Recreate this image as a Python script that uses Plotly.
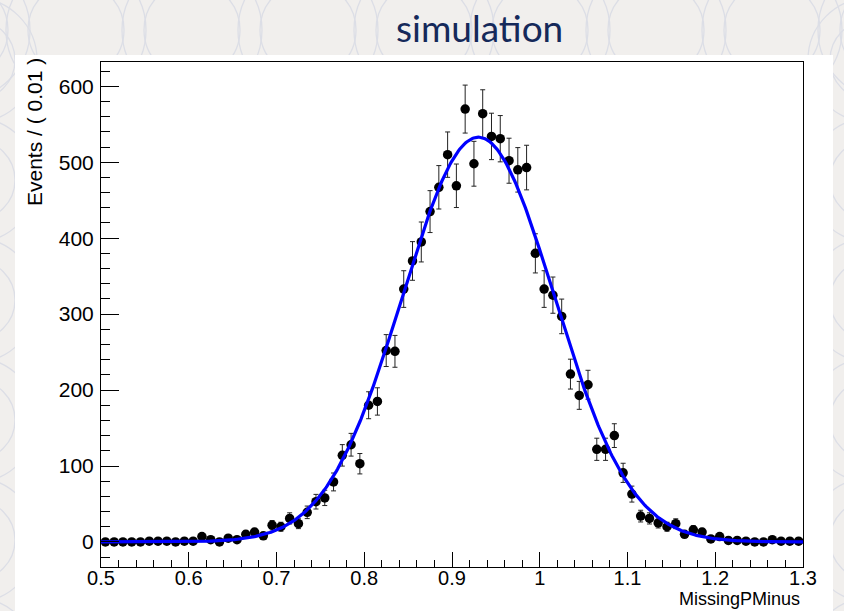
import numpy as np
import plotly.graph_objects as go

# Histogram of MissingPMinus, 80 bins of width 0.01 between 0.5 and 1.3
bin_lo = 0.5
bin_width = 0.01
counts = [
    0, 0, 0, 0, 0, 1, 1, 1, 0, 1,
    1, 7, 3, 0, 5, 3, 10, 13, 8, 22,
    20, 31, 24, 39, 53, 58, 79, 114, 128, 103,
    180, 185, 252, 251, 333, 370, 395, 435, 467, 510,
    469, 570, 498, 564, 534, 531, 502, 490, 493, 380,
    333, 325, 297, 221, 193, 207, 122, 122, 140, 91,
    63, 34, 31, 25, 20, 24, 10, 16, 13, 4,
    7, 2, 2, 1, 0, 0, 3, 1, 1, 1,
]
# per-event weight of the simulated sample (errors are sqrt(sum w^2))
event_weight = 1.75

# Gaussian fit result
fit_amp = 533.0
fit_mean = 0.930
fit_sigma = 0.0866

x_range = [0.5, 1.3]
y_range = [-33, 632]

counts = np.array(counts, dtype=float)
centers = bin_lo + bin_width * (np.arange(len(counts)) + 0.5)
errors = np.sqrt(counts * event_weight)

xf = np.linspace(x_range[0], x_range[1], 600)
yf = fit_amp * np.exp(-0.5 * ((xf - fit_mean) / fit_sigma) ** 2)

W, H = 844, 611
ml, mr, mt, mb = 101, 41, 62, 44
pw, ph = W - ml - mr, H - mt - mb


def px_x(p):
    return (p - ml) / pw


def px_y(p):
    return 1 - (p - mt) / ph


fig = go.Figure()

fig.add_trace(go.Scatter(
    x=centers, y=counts, mode="markers",
    marker=dict(color="black", size=9.5),
    error_y=dict(type="data", array=errors, color="#222222", thickness=1, width=2.5),
    showlegend=False, cliponaxis=True,
))
fig.add_trace(go.Scatter(
    x=xf, y=yf, mode="lines",
    line=dict(color="#0000ff", width=3.2),
    showlegend=False,
))

shapes = []
# slide background ornament: rows of faint arcs
ring = "#dcdee6"
for cx in range(-40, 900, 116):
    for r in (70, 48):
        shapes.append(dict(type="circle", xref="paper", yref="paper",
                           x0=px_x(cx - r), x1=px_x(cx + r),
                           y0=px_y(30 - r), y1=px_y(30 + r),
                           line=dict(color=ring, width=1.3), layer="below"))
for cy in range(60, 700, 120):
    for cx in (-25, 870):
        for r in (62, 40):
            shapes.append(dict(type="circle", xref="paper", yref="paper",
                               x0=px_x(cx - r), x1=px_x(cx + r),
                               y0=px_y(cy + r), y1=px_y(cy - r),
                               line=dict(color=ring, width=1.3), layer="below"))
# white canvas of the plot
shapes.append(dict(type="rect", xref="paper", yref="paper",
                   x0=px_x(15), x1=px_x(833), y0=px_y(612), y1=px_y(55),
                   fillcolor="white", line=dict(width=0), layer="below"))

axis_font = dict(family="Liberation Sans, Arial, sans-serif", size=21, color="black")

fig.update_layout(
    width=W, height=H,
    margin=dict(l=ml, r=mr, t=mt, b=mb, pad=0),
    paper_bgcolor="#f1efed",
    plot_bgcolor="white",
    shapes=shapes,
    xaxis=dict(
        range=x_range, dtick=0.1, tick0=0.5, ticks="inside", ticklen=15,
        tickcolor="black", tickwidth=1, showgrid=False, zeroline=False,
        showline=True, linecolor="black", linewidth=1, mirror=True,
        tickfont=dict(axis_font, size=20), tickformat="~g", ticklabelstandoff=-7,
        minor=dict(ticks="inside", ticklen=7, dtick=0.02, tick0=0.5,
                   tickcolor="black", showgrid=False),
    ),
    yaxis=dict(
        range=y_range, dtick=100, tick0=0, ticks="inside", ticklen=18,
        tickcolor="black", tickwidth=1, showgrid=False, zeroline=False,
        showline=True, linecolor="black", linewidth=1, mirror=True,
        tickfont=axis_font, ticklabelstandoff=2,
        minor=dict(ticks="inside", ticklen=9, dtick=20, tick0=0,
                   tickcolor="black", showgrid=False),
    ),
    annotations=[
        dict(text="simulation", xref="paper", yref="paper",
             x=px_x(479), y=px_y(28), xanchor="center", yanchor="middle",
             showarrow=False,
             font=dict(family="Lato, Open Sans, sans-serif", size=37, color="#15295a")),
        dict(text="Events / ( 0.01 )", xref="paper", yref="paper",
             x=px_x(34), y=px_y(56), xanchor="center", yanchor="top",
             textangle=-90, showarrow=False, font=axis_font),
        dict(text="MissingPMinus", xref="paper", yref="paper",
             x=px_x(802), y=px_y(611), xanchor="right", yanchor="bottom",
             showarrow=False, font=dict(axis_font, size=18)),
    ],
)

fig.write_html("out.html")
